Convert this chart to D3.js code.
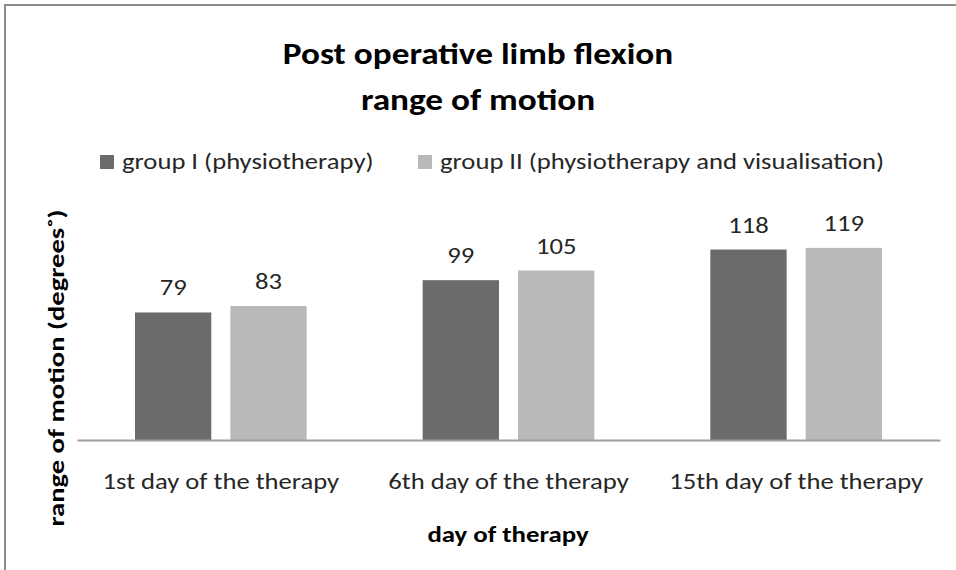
<!DOCTYPE html>
<html><head><meta charset="utf-8">
<script src="https://cdn.jsdelivr.net/npm/d3@7"></script>
<style>body{margin:0;background:#fff;} text{font-family:Carlito,Calibri,Lato,sans-serif;}</style>
</head><body><svg id="c" width="956" height="570"></svg>
<script>
const categories = ["1st day of the therapy","6th day of the therapy","15th day of the therapy"];
const seriesNames = ["group I (physiotherapy)","group II (physiotherapy and visualisation)"];
const group1 = [79, 99, 118];
const group2 = [83, 105, 119];
const seriesColors = ["#6b6b6b","#b9b9b9"];
const titleLines = ["Post operative limb flexion","range of motion"];

const SX = 1.21;
const svg = d3.select("#c");
svg.append("rect").attr("x",5).attr("y",5).attr("width",1000).attr("height",1000)
  .attr("fill","#fff").attr("stroke","#8c8c8c").attr("stroke-width",2);

function stext(x, y, str, size, opts={}) {
  const t = svg.append("text")
    .attr("transform", `translate(${x},${y})${opts.rot?` rotate(${opts.rot})`:""} scale(${opts.sx||SX},1)`)
    .attr("font-size", size).attr("fill", opts.fill||"#262626")
    .attr("text-anchor", opts.anchor||"start").text(str);
  if (opts.bold) t.attr("font-weight","bold");
  return t;
}

const plot = {left:77, right:940, top:214, bottom:440};
const x0 = d3.scaleBand().domain(categories).range([plot.left, plot.right]).paddingInner(0).paddingOuter(0);
const x1 = d3.scaleBand().domain([0,1]).range([58, x0.bandwidth()-58]).paddingInner(0.2);
const y = d3.scaleLinear().domain([0,140]).range([plot.bottom, plot.top]);

const data = categories.map((c,i)=>({cat:c, vals:[group1[i], group2[i]]}));

data.forEach(d=>{
  d.vals.forEach((v,s)=>{
    const bx = x0(d.cat)+x1(s);
    svg.append("rect").attr("x",bx).attr("y",y(v)).attr("width",x1.bandwidth()).attr("height",y(0)-y(v))
      .attr("fill",seriesColors[s]);
    stext(bx+x1.bandwidth()/2, y(v)-17, v, 22, {anchor:"middle"});
  });
});

// baseline axis
const xAxis = d3.axisBottom(x0).tickSize(0).tickPadding(0);
const ax = svg.append("g").attr("transform",`translate(0,${plot.bottom})`).call(xAxis);
ax.select(".domain").attr("stroke","#a0a0a0").attr("stroke-width",2);
ax.selectAll(".tick text").attr("font-size",22).attr("fill","#262626").attr("dy",null).attr("y",0)
  .attr("transform",`translate(0,49) scale(${SX},1)`)
  .style("font-family","Carlito,Calibri,Lato,sans-serif");

// title
titleLines.forEach((t,i)=>{
  stext(478, 64+i*46, t, 30, {anchor:"middle", bold:true, fill:"#000", sx:1.175});
});

// legend
const legX = [100, 418];
seriesNames.forEach((n,i)=>{
  svg.append("rect").attr("x",legX[i]).attr("y",155).attr("width",14).attr("height",14).attr("fill",seriesColors[i]);
  stext(legX[i]+22, 169, n, 22);
});

// axis titles
stext(508, 542, "day of therapy", 22, {anchor:"middle", bold:true, fill:"#000", sx:1.22});
stext(64, 368, "range of motion (degrees˚)", 22, {anchor:"middle", bold:true, fill:"#000", rot:-90, sx:1.3});
</script></body></html>
